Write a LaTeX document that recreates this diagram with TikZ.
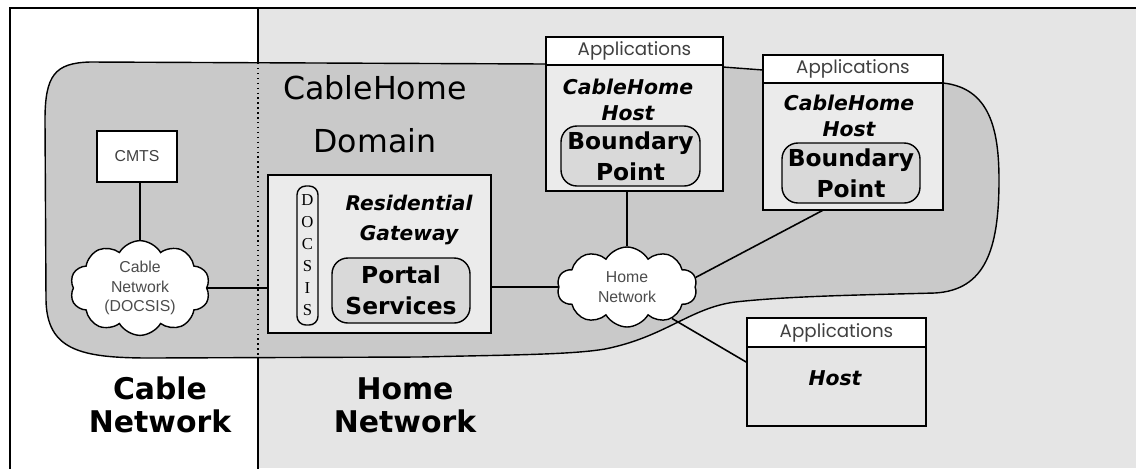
\documentclass[tikz,border=0pt]{standalone}
\usepackage{fontspec}
\setmainfont{DejaVu Sans}
\newfontfamily\appfont{Poppins}
\newfontfamily\smallfont{Liberation Sans}
\newfontfamily\letterfont{Liberation Serif}
\usetikzlibrary{shapes.symbols}
\usetikzlibrary{positioning}

\definecolor{homegray}{gray}{0.90}
\definecolor{domaingray}{gray}{0.79}
\definecolor{boxgray}{gray}{0.92}
\definecolor{innergray}{gray}{0.85}

\begin{document}
\begin{tikzpicture}[x=0.02cm,y=-0.02cm]
	\tikzset{line/.style = {line width=0.9pt}}
	\tikzset{plainbox/.style = {shape=rectangle,draw,line width=1pt,fill=white,
			inner sep=0pt,outer sep=0pt}}
	\tikzset{hostbox/.style = {plainbox,fill=boxgray}}
	\tikzset{appbox/.style = {plainbox,fill=white,text=black!75,
			font=\appfont\fontsize{10.4}{11}\selectfont}}
	\tikzset{roundbox/.style = {shape=rectangle,rounded corners=9pt,draw,
			line width=0.8pt,fill=innergray,inner sep=0pt,outer sep=0pt,align=center,
			font=\bfseries\fontsize{13.3}{17.8}\selectfont}}
	\tikzset{cloudnode/.style = {shape=cloud,cloud puffs=10,cloud puff arc=120,
			aspect=1.7,draw,line width=0.8pt,fill=white,inner sep=0pt,align=center,
			text=black!70,font=\smallfont\fontsize{9}{11}\selectfont}}
	\tikzset{hosttext/.style = {align=center,
			font=\bfseries\itshape\fontsize{11.6}{14.8}\selectfont}}
	\tikzset{areatext/.style = {align=center,
			font=\bfseries\fontsize{17}{18.7}\selectfont}}
	
	% frame and areas
	\path[use as bounding box,clip] (0,0) rectangle (1136,468);
	\fill[homegray] (258,8) rectangle (1136,468);
	\draw[line width=1.1pt] (10,470) -- (10,8) -- (1140,8);
	\draw[line width=0.8pt] (258,8) -- (258,470);
	
	% CableHome domain
	\draw[line width=0.8pt,fill=domaingray] (90,62) -- (546,64) -- (723,67)
		-- (763,70) -- (943,83) .. controls (990,88) and (999,130) .. (999,180)
		.. controls (999,250) and (985,290) .. (935,293)
		.. controls (860,295) and (790,296) .. (735,302)
		.. controls (690,308) and (665,337) .. (605,349)
		.. controls (570,355) and (500,355) .. (420,357) -- (150,358)
		.. controls (80,358) and (47,350) .. (46,300) -- (45,120)
		.. controls (45,75) and (55,63) .. (90,62) -- cycle;
	\draw[dotted,line width=0.8pt] (258,63) -- (258,357);
	
	% vertices
	\node[plainbox,minimum width=1.6cm,minimum height=1.02cm,text=black!75,
		font=\smallfont\fontsize{9}{10}\selectfont] (cmts) at (137,156.5) {CMTS};
	\node[cloudnode,minimum width=2.8cm,minimum height=1.75cm] (cablenet)
		at (140,288) {Cable\\Network\\(DOCSIS)};
	
	\node[hostbox,minimum width=4.46cm,minimum height=3.16cm] (rg) at (379.5,254) {};
	\node[shape=rectangle,rounded corners=5pt,draw,line width=0.8pt,fill=boxgray,
		minimum width=0.42cm,minimum height=2.78cm,inner sep=0pt,align=center,
		font=\letterfont\fontsize{9.5}{12.5}\selectfont] (docsis)
		at (307.5,255.5) {D\\O\\C\\S\\I\\S};
	\node[hosttext,font=\bfseries\itshape\fontsize{11.5}{17.6}\selectfont] (rgtext)
		at (409,220) {Residential\\Gateway};
	\node[roundbox,minimum width=2.76cm,minimum height=1.3cm] (portal)
		at (401,290.5) {Portal\\Services};
	
	\node[hostbox,minimum width=3.54cm,minimum height=2.52cm] (host1) at (634.5,128) {};
	\node[appbox,minimum width=3.54cm,minimum height=0.56cm,above=0pt of host1] (app1)
		{Applications};
	\node[hosttext] (host1text) at (628,99.5) {CableHome\\Host};
	\node[roundbox,minimum width=2.78cm,minimum height=1.2cm] (bp1)
		at (630.5,156) {Boundary\\Point};
	
	\node[hostbox,minimum width=3.6cm,minimum height=2.54cm] (host2) at (853,146.5) {};
	\node[appbox,minimum width=3.6cm,minimum height=0.56cm,above=0pt of host2] (app2)
		{Applications};
	\node[hosttext] (host2text) at (849,115.5) {CableHome\\Host};
	\node[roundbox,minimum width=2.76cm,minimum height=1.2cm] (bp2)
		at (851,173) {Boundary\\Point};
	
	\node[cloudnode,minimum width=2.8cm,minimum height=1.6cm] (homenet)
		at (627,287) {Home\\Network};
	
	\node[plainbox,fill=homegray,minimum width=3.58cm,minimum height=1.58cm] (host3)
		at (836.5,386.5) {};
	\node[appbox,minimum width=3.58cm,minimum height=0.58cm,above=0pt of host3] (app3)
		{Applications};
	\node[hosttext] (host3text) at (835,378) {Host};
	
	\node[align=center,font=\fontsize{18}{30}\selectfont] (domain)
		at (375,114) {CableHome\\Domain};
	\node[areatext] (cablearea) at (160,405) {Cable\\Network};
	\node[areatext] (homearea) at (405,405) {Home\\Network};
	
	%edges
	\draw[line] (cmts.south -| cablenet.north) -- (cablenet.north);
	\draw[line] (cablenet.east) -- (cablenet.east -| rg.west);
	\draw[line] (homenet.west -| rg.east) -- (homenet.west);
	\draw[line] (host1.south -| homenet.north) -- (homenet.north);
	\draw[line] (homenet.8) -- (host2.245);
	\draw[line] (homenet.-35) -- (host3.165);
\end{tikzpicture}
\end{document}
